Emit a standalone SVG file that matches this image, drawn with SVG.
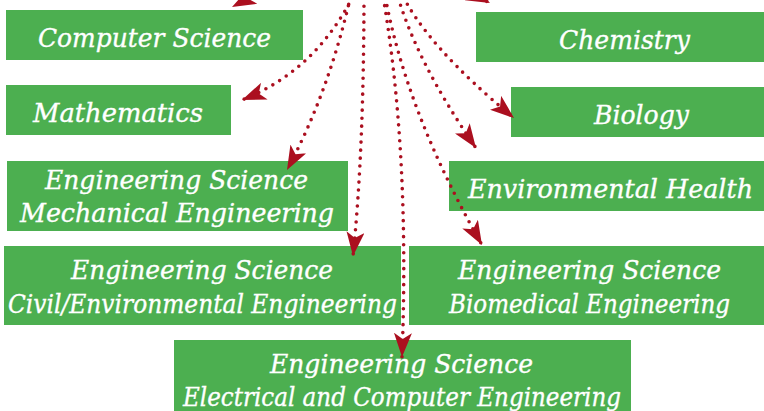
<svg xmlns="http://www.w3.org/2000/svg" width="764" height="411" viewBox="0 0 764 411">
<defs>
<style>
.box{fill:#4caf50}
.lbl{fill:#ffffff;stroke:#ffffff;stroke-width:0.35;font-family:"DejaVu Serif","Liberation Serif",serif;font-style:italic;font-size:26px}
.con{fill:none;stroke:#ab0f1f;stroke-width:3.6;stroke-linecap:round;stroke-dasharray:0 8;marker-end:url(#ah)}
</style>
<marker id="ah" markerUnits="userSpaceOnUse" viewBox="0 0 24 18" markerWidth="24" markerHeight="18" refX="24" refY="9" orient="auto">
<path d="M0,0 L24,9 L0,18 L6,9 Z" fill="#ab0f1f"/>
</marker>
</defs>
<rect width="764" height="411" fill="#ffffff"/>
<g id="computer-science"><rect class="box" x="6" y="10" width="297" height="50"/><text class="lbl" x="38" y="47" textLength="233" lengthAdjust="spacingAndGlyphs">Computer Science</text></g>
<g id="mathematics"><rect class="box" x="6" y="85" width="225" height="50"/><text class="lbl" x="33" y="122" textLength="170" lengthAdjust="spacingAndGlyphs">Mathematics</text></g>
<g id="chemistry"><rect class="box" x="476" y="12" width="288" height="50"/><text class="lbl" x="559" y="49" textLength="131" lengthAdjust="spacingAndGlyphs">Chemistry</text></g>
<g id="biology"><rect class="box" x="511" y="87" width="253" height="50"/><text class="lbl" x="594" y="124" textLength="95" lengthAdjust="spacingAndGlyphs">Biology</text></g>
<g id="mechanical"><rect class="box" x="7" y="161" width="341" height="70"/><text class="lbl" x="45" y="189" textLength="263" lengthAdjust="spacingAndGlyphs">Engineering Science</text><text class="lbl" x="20" y="222" textLength="314" lengthAdjust="spacingAndGlyphs">Mechanical Engineering</text></g>
<g id="environmental-health"><rect class="box" x="449" y="161" width="315" height="50"/><text class="lbl" x="468" y="198" textLength="285" lengthAdjust="spacingAndGlyphs">Environmental Health</text></g>
<g id="civil"><rect class="box" x="4" y="246" width="397" height="79"/><text class="lbl" x="71" y="279" textLength="262" lengthAdjust="spacingAndGlyphs">Engineering Science</text><text class="lbl" x="8" y="313" textLength="389" lengthAdjust="spacingAndGlyphs">Civil/Environmental Engineering</text></g>
<g id="biomedical"><rect class="box" x="409" y="246" width="355" height="79"/><text class="lbl" x="458" y="279" textLength="263" lengthAdjust="spacingAndGlyphs">Engineering Science</text><text class="lbl" x="449" y="313" textLength="281" lengthAdjust="spacingAndGlyphs">Biomedical Engineering</text></g>
<g id="electrical"><rect class="box" x="174" y="340" width="457" height="80"/><text class="lbl" x="270" y="373" textLength="263" lengthAdjust="spacingAndGlyphs">Engineering Science</text><text class="lbl" x="183" y="406" textLength="438" lengthAdjust="spacingAndGlyphs">Electrical and Computer Engineering</text></g>
<g id="connectors">
<path class="con" d="M330,-24 Q268,-12 232,7"/>
<path class="con" d="M420,-26 Q460,-12 490,3"/>
<path class="con" d="M356,-10 Q318,70 242,100"/>
<path class="con" d="M352,-10 Q330,90 287,170"/>
<path class="con" d="M364,-10 Q364,150 353,256"/>
<path class="con" d="M382,-10 Q410,150 402,357"/>
<path class="con" d="M384,-10 Q405,110 482,245"/>
<path class="con" d="M396,-10 Q415,60 476,148"/>
<path class="con" d="M400,-10 Q425,45 514,118"/>
</g>
</svg>
